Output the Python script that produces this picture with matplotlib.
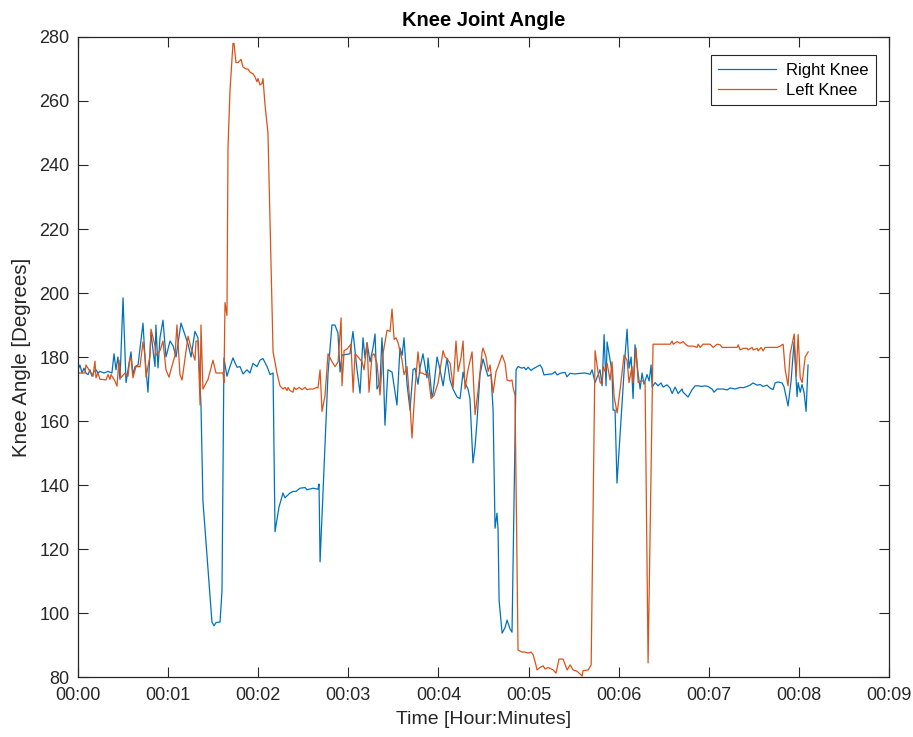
import matplotlib
matplotlib.use("Agg")
import matplotlib.pyplot as plt
from matplotlib.ticker import FixedLocator, FixedFormatter

plt.rcParams['font.family'] = ['Liberation Sans', 'DejaVu Sans']

# Time stamps (seconds) and knee angles (degrees)
right_t = [0.0, 1.3, 2.7, 4.0, 5.3, 6.7, 8.0, 9.3, 10.7, 12.0, 13.3, 14.7, 17.3, 20.0, 22.6,
           24.0, 25.3, 26.6, 28.0, 30.0, 32.0, 34.0, 35.3, 36.6, 38.0, 40.0, 43.3, 44.6, 46.6,
           48.6, 51.3, 51.9, 53.3, 54.6, 56.6, 58.6, 61.3, 63.3, 65.3, 68.6, 73.3, 75.3, 77.9,
           79.9, 81.9, 83.2, 89.2, 90.6, 91.9, 94.6, 95.9, 97.2, 99.2, 101.2, 103.2, 105.9,
           107.9, 109.9, 112.5, 114.5, 116.5, 119.2, 121.2, 123.2, 125.9, 127.9, 129.9, 131.2,
           133.8, 136.5, 137.8, 141.2, 143.2, 145.2, 147.8, 151.2, 152.5, 156.5, 159.8, 160.5,
           161.2, 166.5, 169.1, 171.1, 173.1, 174.5, 175.8, 181.1, 183.1, 185.8, 187.8, 189.8,
           191.1, 192.5, 194.5, 196.5, 197.8, 199.1, 201.1, 202.4, 203.1, 204.4, 206.4, 209.1,
           212.4, 214.4, 215.8, 217.1, 219.1, 221.1, 223.1, 224.4, 226.4, 227.7, 229.7, 232.4,
           233.1, 235.7, 236.4, 239.1, 241.1, 243.1, 245.7, 247.7, 249.7, 252.4, 254.4, 256.4,
           257.7, 259.7, 261.0, 263.0, 264.4, 265.7, 267.7, 269.7, 271.7, 273.0, 275.0, 276.4,
           277.7, 279.0, 279.7, 280.4, 282.4, 284.4, 285.7, 287.7, 289.0, 291.7, 293.0, 295.7,
           297.0, 298.3, 299.7, 301.7, 303.0, 305.7, 307.7, 309.0, 310.3, 313.0, 315.7, 317.6,
           319.0, 321.0, 324.3, 325.6, 327.6, 331.0, 334.3, 337.6, 341.0, 342.3, 344.3, 347.6,
           349.0, 350.3, 351.6, 352.3, 355.6, 356.3, 357.6, 358.9, 364.3, 365.6, 366.9, 368.3,
           369.6, 370.9, 372.9, 374.3, 375.6, 376.9, 378.9, 380.3, 381.6, 382.3, 384.3, 386.2,
           388.2, 389.6, 392.2, 394.2, 395.6, 397.6, 399.6, 402.2, 402.9, 406.2, 408.9, 410.9,
           412.9, 415.5, 417.5, 419.5, 422.2, 423.5, 425.5, 427.5, 429.5, 432.2, 434.2, 437.5,
           440.9, 442.9, 445.5, 447.5, 449.5, 452.2, 454.2, 456.2, 458.8, 460.8, 462.8, 464.2,
           466.2, 468.8, 470.1, 472.8, 474.8, 476.8, 478.8, 479.5, 480.9, 482.1, 483.5, 484.8,
           486.1]
right_knee = [176, 177.5, 175, 176.5, 175, 174.5, 176, 174, 175.5, 176, 175, 175.5, 175, 175.5,
              175, 181, 176, 180, 173, 198.5, 172, 178, 181.6, 174.4, 177, 177.5, 190.6, 180,
              169, 187.5, 177, 190, 176.6, 186, 191.5, 180, 185, 183.5, 180, 190.6, 184, 180,
              188, 186, 165, 135, 97.2, 96, 97, 97.2, 107, 179.7, 174, 177, 179.7, 176.8, 177,
              174.7, 176, 175, 178, 177, 179, 179.5, 177, 174.5, 175, 125.4, 133, 137.5, 136,
              137.5, 138, 138, 139, 139.2, 138.5, 139, 138.7, 140.3, 116, 175, 190, 190, 187.5,
              175.3, 180.6, 181, 188, 176, 168.7, 186, 179.7, 184.4, 178.5, 183, 187.2, 170,
              172, 186, 180, 158.7, 176, 175.3, 165, 182.8, 180.5, 186, 171.5, 163.4, 176,
              176.5, 171.5, 176.5, 181, 173.5, 179.7, 167.5, 168.5, 180, 176, 171, 179.5, 172.8,
              170, 167.5, 167, 175.3, 172, 170, 167, 146.9, 152, 160, 174.5, 179.4, 176, 174,
              174.5, 163.4, 126.5, 131.2, 126, 104, 93.7, 95.5, 97.8, 95, 94, 176, 177, 176.5,
              176.8, 176, 176.8, 175.8, 176.3, 177, 177.5, 176.5, 174.4, 174.6, 174.7, 175.4,
              174.4, 174.9, 175.2, 173.8, 174.9, 174.7, 174.9, 175, 174.6, 176, 172, 176, 171,
              187, 171, 184.7, 175.3, 163.4, 163.4, 140.6, 180.6, 188.7, 176.5, 180, 167, 183.8,
              175, 170, 175, 171.5, 174.5, 172.5, 177.5, 170.6, 172, 171, 171.9, 170.6, 171.3,
              170.3, 168.6, 170.6, 168.6, 170, 169, 167.5, 169.8, 171, 171, 170.8, 171, 170.8,
              170, 169, 170, 170, 170, 169.7, 170.3, 170, 170.5, 170.4, 170.8, 171.2, 171.9,
              171.2, 171.4, 170.8, 171.2, 170.3, 169.8, 171.9, 172.2, 171.9, 170.7, 164.7, 172.5,
              184.7, 167.6, 172, 169, 171.4, 168.8, 163, 177.5]

left_t = [0.0, 4.7, 5.3, 8.0, 10.0, 11.3, 12.0, 13.3, 14.7, 16.6, 18.6, 20.0, 21.3, 22.0, 24.6,
          26.0, 27.3, 28.6, 31.3, 33.3, 34.6, 35.3, 36.6, 38.6, 41.3, 43.3, 44.6, 45.3, 48.0,
          48.6, 51.3, 51.9, 54.6, 56.6, 58.6, 60.6, 61.9, 64.6, 65.9, 67.9, 69.3, 71.3, 73.3,
          75.3, 77.9, 78.6, 79.9, 81.3, 81.9, 83.2, 86.6, 89.9, 91.9, 96.6, 97.2, 97.9, 99.2,
          99.9, 101.2, 103.2, 103.9, 105.2, 106.6, 108.6, 109.9, 111.9, 113.2, 114.6, 116.6,
          117.9, 119.2, 119.9, 121.2, 122.5, 123.2, 124.5, 126.5, 129.9, 132.5, 134.5, 136.5,
          137.9, 139.2, 139.9, 141.2, 143.2, 143.9, 145.2, 147.2, 149.2, 151.2, 152.5, 154.5,
          156.5, 159.2, 159.8, 161.2, 162.5, 164.5, 166.5, 169.2, 171.2, 173.2, 175.2, 175.8,
          177.2, 179.2, 181.8, 183.2, 184.5, 186.5, 189.1, 190.5, 192.5, 193.8, 195.8, 197.1,
          199.1, 201.1, 203.1, 205.8, 207.8, 209.1, 210.5, 211.8, 213.1, 215.8, 217.1, 219.1,
          221.1, 222.4, 224.4, 226.4, 227.8, 229.1, 231.1, 233.1, 235.1, 237.1, 239.8, 243.1,
          244.4, 245.8, 247.8, 249.8, 251.7, 253.1, 255.1, 256.4, 257.7, 259.7, 262.4, 264.4,
          266.4, 269.1, 269.7, 271.7, 273.1, 274.4, 276.4, 278.4, 279.7, 282.4, 284.4, 285.7,
          287.7, 289.0, 289.7, 291.0, 293.0, 295.7, 297.7, 299.7, 301.7, 303.0, 304.4, 305.7,
          307.7, 309.7, 311.0, 313.0, 316.4, 318.3, 320.3, 323.0, 325.7, 327.7, 329.7, 332.3,
          333.7, 335.7, 336.3, 339.7, 341.7, 344.3, 346.3, 347.7, 349.0, 349.7, 351.0, 352.3,
          354.3, 355.6, 357.0, 359.0, 361.0, 363.6, 365.6, 366.9, 368.9, 369.6, 371.6, 373.0,
          374.9, 376.3, 377.6, 379.6, 382.9, 385.6, 388.9, 392.3, 394.3, 395.6, 396.3, 398.9,
          400.9, 402.9, 404.9, 406.3, 409.6, 412.2, 412.9, 414.3, 416.2, 420.9, 422.9, 425.6,
          427.6, 428.9, 430.9, 434.2, 436.2, 438.9, 439.6, 440.9, 442.9, 445.6, 446.2, 448.9,
          449.6, 452.2, 452.9, 454.9, 456.2, 457.5, 460.9, 465.5, 467.5, 469.5, 470.9, 472.8,
          474.2, 476.9, 478.2, 479.5, 480.9, 482.2, 484.2, 486.2]
left_knee = [175, 175, 177.5, 175.5, 174, 178.7, 173.5, 175, 173, 173, 172.8, 174.5, 173, 174.5,
             172.5, 170.9, 179, 173.5, 175, 174, 179.7, 179.7, 173.5, 177, 177, 184.7, 180.5,
             173.7, 180.5, 188.7, 183.5, 180.5, 182, 185, 176, 173.7, 176, 180.5, 190, 174.5,
             172.8, 179.7, 186.5, 182.8, 179, 185, 185, 165, 190, 170, 173, 179, 175, 175, 172,
             197, 193, 245.6, 263, 278, 278, 272, 272, 273, 270.6, 270, 270, 269, 268.5, 267.5,
             266, 267, 265, 265.5, 267, 259, 250, 181.6, 175, 171, 170, 170.5, 169.5, 170.5,
             169.5, 169, 170.5, 169.8, 170.5, 169.8, 170.5, 169.8, 170, 170, 170.5, 170.3, 176,
             163, 168, 181, 178.5, 177, 178.5, 192.2, 171, 182, 182.5, 184, 169, 181, 180,
             178.5, 176, 184.5, 169, 180.5, 181, 178, 168.1, 181, 188.4, 188, 195, 185.5, 186,
             184.5, 179, 174.5, 177, 165, 154.7, 170, 181.6, 175, 175, 174.5, 175, 167, 168,
             172, 182, 180, 179.5, 178, 170.5, 185, 175.5, 180, 185, 170, 176, 181.6, 162,
             169.5, 181.6, 182.8, 180, 175.5, 177.5, 168.8, 175.5, 177, 180.6, 178, 172.8,
             172.5, 172.8, 170.5, 168, 88.4, 87.8, 87.8, 87.5, 87.8, 87, 84.7, 82.2, 83, 83.5,
             82.5, 83, 82.2, 81.2, 85.6, 85.6, 82.2, 83.8, 82.2, 81.8, 81.2, 80.3, 82, 82.2,
             83.8, 182, 175.3, 172, 171.5, 177, 175.5, 178, 172.8, 178.5, 167.5, 162.5, 170,
             180.6, 179, 172, 177, 172, 182.8, 172, 172.5, 172.5, 172, 84.4, 184, 184, 184, 184,
             184, 185, 184, 184.8, 184.3, 184.8, 183.8, 183.4, 183.4, 183, 184, 183, 184, 184,
             183, 184, 183.8, 183, 183, 183, 183, 183, 183.8, 182.2, 182.7, 182.7, 182.2, 183,
             182.2, 182.7, 181.9, 183, 181.9, 183, 183, 183, 183.4, 184, 176, 171, 181, 187.2,
             174, 187, 173.5, 172, 180, 181.6]

tick_minutes = [0, 1, 2, 3, 4, 5, 6, 7, 8, 9]
tick_labels = ["00:00", "00:01", "00:02", "00:03", "00:04", "00:05", "00:06", "00:07",
               "00:08", "00:09"]
y_ticks = [80, 100, 120, 140, 160, 180, 200, 220, 240, 260, 280]

fig = plt.figure(figsize=(9.13, 7.37), dpi=100)
ax = fig.add_axes([0.0854, 0.0814, 0.8883, 0.8684])

ax.plot(right_t, right_knee, color="#0072BD", lw=0.9, label="Right Knee")
ax.plot(left_t, left_knee, color="#D95319", lw=0.9, label="Left Knee")

ax.set_xlim(0, 540)
ax.set_ylim(80, 280)
ax.xaxis.set_major_locator(FixedLocator([m * 60 for m in tick_minutes]))
ax.xaxis.set_major_formatter(FixedFormatter(tick_labels))
ax.set_yticks(y_ticks)

ax.tick_params(direction="in", length=7, width=0.8, colors="#262626", labelsize=13,
               top=True, right=True)
ax.tick_params(axis="x", pad=7)
ax.tick_params(axis="y", pad=6)
for sp in ax.spines.values():
    sp.set_color("#262626")
    sp.set_linewidth(0.9)

ax.set_title("Knee Joint Angle", fontsize=14.5, fontweight="bold", pad=8)
ax.set_xlabel("Time [Hour:Minutes]", fontsize=14, color="#262626", labelpad=5)
ax.set_ylabel("Knee Angle [Degrees]", fontsize=14.8, color="#262626", labelpad=6)

leg = ax.legend(loc="upper right", bbox_to_anchor=(0.9845, 0.9715), fontsize=12,
                frameon=True, fancybox=False, edgecolor="#262626", framealpha=1,
                handlelength=3.5, handletextpad=0.6, borderpad=0.45, labelspacing=0.3,
                borderaxespad=0)
leg.get_frame().set_linewidth(0.8)

fig.savefig("out.png", dpi=100)
